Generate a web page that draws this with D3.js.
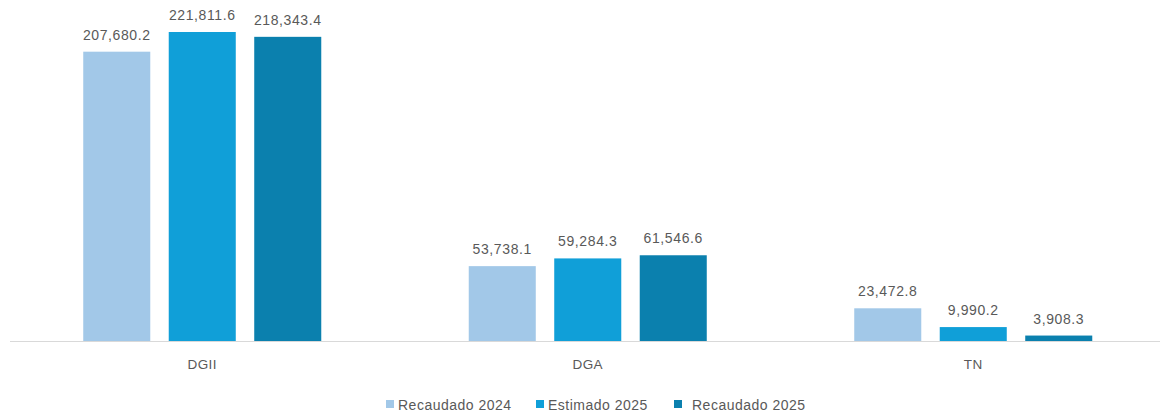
<!DOCTYPE html>
<html>
<head>
<meta charset="utf-8">
<script src="https://cdn.jsdelivr.net/npm/d3@7"></script>
<style>
  body { margin: 0; background: #fff; }
  text { font-family: "Liberation Sans", Arial, sans-serif; fill: #595959; }
</style>
</head>
<body>
<div id="chart"></div>
<script>
const categories = ['DGII', 'DGA', 'TN'];
const seriesNames = ['Recaudado 2024', 'Estimado 2025', 'Recaudado 2025'];
const recaudado2024 = [207680.2, 53738.1, 23472.8];
const estimado2025 = [221811.6, 59284.3, 9990.2];
const recaudado2025 = [218343.4, 61546.6, 3908.3];
const colors = ['#a2c8e8', '#109fd8', '#0b80ae'];

const series = [recaudado2024, estimado2025, recaudado2025];
const width = 1163, height = 418;
const baseY = 341;

const svg = d3.select('#chart').append('svg')
  .attr('width', width).attr('height', height);

const x0 = d3.scaleBand().domain(categories).range([9.5, 1166]);
const x1 = d3.scaleBand().domain(seriesNames).range([0, x0.bandwidth()])
  .paddingInner(0.216).paddingOuter(0.8625);
const y = d3.scaleLinear().domain([0, 221811.6]).range([baseY, 32]);

const fmt = d3.format(',.1f');

const groups = svg.selectAll('.grp').data(categories).enter().append('g')
  .attr('class', 'grp')
  .attr('transform', d => 'translate(' + x0(d) + ',0)');

groups.each(function (cat, ci) {
  const g = d3.select(this);
  seriesNames.forEach((s, si) => {
    const v = series[si][ci];
    g.append('rect')
      .attr('x', x1(s))
      .attr('y', y(v))
      .attr('width', x1.bandwidth())
      .attr('height', baseY - y(v))
      .attr('fill', colors[si]);
    g.append('text')
      .attr('x', x1(s) + x1.bandwidth() / 2)
      .attr('y', y(v) - 12)
      .attr('text-anchor', 'middle')
      .style('font-size', '14px')
      .style('letter-spacing', '0.6px')
      .text(fmt(v));
  });
});

// baseline
svg.append('line')
  .attr('x1', 10).attr('x2', 1160)
  .attr('y1', baseY + 0.5).attr('y2', baseY + 0.5)
  .attr('stroke', '#d9d9d9').attr('stroke-width', 1);

// category labels
svg.selectAll('.cat').data(categories).enter().append('text')
  .attr('class', 'cat')
  .attr('x', d => x0(d) + x0.bandwidth() / 2)
  .attr('y', 369)
  .attr('text-anchor', 'middle')
  .style('font-size', '13.5px')
  .style('letter-spacing', '0.4px')
  .text(d => d);

// legend
const legendX = [386, 536, 674];
const legG = svg.selectAll('.legend').data(seriesNames).enter().append('g')
  .attr('class', 'legend')
  .attr('transform', (d, i) => 'translate(' + legendX[i] + ',400)');
legG.append('rect')
  .attr('width', 8).attr('height', 8)
  .attr('fill', (d, i) => colors[i]);
legG.append('text')
  .attr('x', (d, i) => i === 2 ? 18 : 12)
  .attr('y', 9.5)
  .style('font-size', '14px')
  .style('letter-spacing', '0.5px')
  .text(d => d);
</script>
</body>
</html>
